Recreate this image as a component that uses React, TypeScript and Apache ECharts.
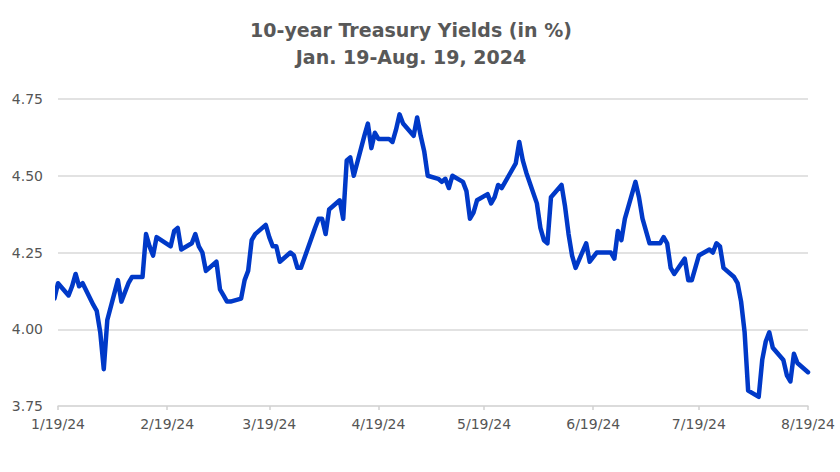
import React, { useEffect, useRef } from "react";
import * as echarts from "echarts";

const titleLines = ["10-year Treasury Yields (in %)", "Jan. 19-Aug. 19, 2024"];

const dates = [
  "2024-01-18", "2024-01-19", "2024-01-22", "2024-01-23", "2024-01-24", "2024-01-25", "2024-01-26", "2024-01-29", "2024-01-30", "2024-01-31",
  "2024-02-01", "2024-02-02", "2024-02-05", "2024-02-06", "2024-02-07", "2024-02-08", "2024-02-09", "2024-02-12", "2024-02-13", "2024-02-14",
  "2024-02-15", "2024-02-16", "2024-02-20", "2024-02-21", "2024-02-22", "2024-02-23", "2024-02-26", "2024-02-27", "2024-02-28", "2024-02-29",
  "2024-03-01", "2024-03-04", "2024-03-05", "2024-03-06", "2024-03-07", "2024-03-08", "2024-03-11", "2024-03-12", "2024-03-13", "2024-03-14",
  "2024-03-15", "2024-03-18", "2024-03-19", "2024-03-20", "2024-03-21", "2024-03-22", "2024-03-25", "2024-03-26", "2024-03-27", "2024-03-28",
  "2024-04-01", "2024-04-02", "2024-04-03", "2024-04-04", "2024-04-05", "2024-04-08", "2024-04-09", "2024-04-10", "2024-04-11", "2024-04-12",
  "2024-04-15", "2024-04-16", "2024-04-17", "2024-04-18", "2024-04-19", "2024-04-22", "2024-04-23", "2024-04-24", "2024-04-25", "2024-04-26",
  "2024-04-29", "2024-04-30",
  "2024-05-01", "2024-05-02", "2024-05-03", "2024-05-06", "2024-05-07", "2024-05-08", "2024-05-09", "2024-05-10", "2024-05-13", "2024-05-14",
  "2024-05-15", "2024-05-16", "2024-05-17", "2024-05-20", "2024-05-21", "2024-05-22", "2024-05-23", "2024-05-24", "2024-05-28", "2024-05-29",
  "2024-05-30", "2024-05-31",
  "2024-06-03", "2024-06-04", "2024-06-05", "2024-06-06", "2024-06-07", "2024-06-10", "2024-06-11", "2024-06-12", "2024-06-13", "2024-06-14",
  "2024-06-17", "2024-06-18", "2024-06-20", "2024-06-21", "2024-06-24", "2024-06-25", "2024-06-26", "2024-06-27", "2024-06-28",
  "2024-07-01", "2024-07-02", "2024-07-03", "2024-07-05", "2024-07-08", "2024-07-09", "2024-07-10", "2024-07-11", "2024-07-12", "2024-07-15",
  "2024-07-16", "2024-07-17", "2024-07-18", "2024-07-19", "2024-07-22", "2024-07-23", "2024-07-24", "2024-07-25", "2024-07-26", "2024-07-29",
  "2024-07-30", "2024-07-31",
  "2024-08-01", "2024-08-02", "2024-08-05", "2024-08-06", "2024-08-07", "2024-08-08", "2024-08-09", "2024-08-12", "2024-08-13", "2024-08-14",
  "2024-08-15", "2024-08-16", "2024-08-19",
];

const yields = [
  4.10, 4.15, 4.11, 4.14, 4.18, 4.14, 4.15, 4.08, 4.06, 3.99,
  3.87, 4.03, 4.16, 4.09, 4.12, 4.15, 4.17, 4.17, 4.31, 4.27,
  4.24, 4.30, 4.27, 4.32, 4.33, 4.26, 4.28, 4.31, 4.27, 4.25,
  4.19, 4.22, 4.13, 4.11, 4.09, 4.09, 4.10, 4.16, 4.19, 4.29,
  4.31, 4.34, 4.30, 4.27, 4.27, 4.22, 4.25, 4.24, 4.20, 4.20,
  4.33, 4.36, 4.36, 4.31, 4.39, 4.42, 4.36, 4.55, 4.56, 4.50,
  4.63, 4.67, 4.59, 4.64, 4.62, 4.62, 4.61, 4.65, 4.70, 4.67,
  4.63, 4.69,
  4.63, 4.58, 4.50, 4.49, 4.48, 4.49, 4.46, 4.50, 4.48, 4.45,
  4.36, 4.38, 4.42, 4.44, 4.41, 4.43, 4.47, 4.46, 4.54, 4.61,
  4.55, 4.51,
  4.41, 4.33, 4.29, 4.28, 4.43, 4.47, 4.40, 4.31, 4.24, 4.20,
  4.28, 4.22, 4.25, 4.25, 4.25, 4.23, 4.32, 4.29, 4.36,
  4.48, 4.43, 4.36, 4.28, 4.28, 4.30, 4.28, 4.20, 4.18, 4.23,
  4.16, 4.16, 4.20, 4.24, 4.26, 4.25, 4.28, 4.27, 4.20, 4.17,
  4.15, 4.09,
  3.99, 3.80, 3.78, 3.90, 3.96, 3.99, 3.94, 3.90, 3.85, 3.83,
  3.92, 3.89, 3.86,
];

const tickDates = ["2024-01-19", "2024-02-19", "2024-03-19", "2024-04-19", "2024-05-19", "2024-06-19", "2024-07-19", "2024-08-19"];

const yMin = 3.75;
const yMax = 4.75;
const yStep = 0.25;

function toTime(s: string): number {
  const [y, m, d] = s.split("-").map(Number);
  return new Date(y, m - 1, d).getTime();
}

export default function App() {
  const ref = useRef<HTMLDivElement>(null);

  useEffect(() => {
    document.body.style.margin = "0";
    if (!ref.current) return;
    const chart = echarts.init(ref.current, undefined, { renderer: "svg" });
    const ticks = tickDates.map(toTime);
    const data = dates.map((d, i) => [toTime(d), yields[i]]);
    const labelFont = "'DejaVu Sans', Verdana, sans-serif";
    chart.setOption({
      animation: false,
      backgroundColor: "#ffffff",
      graphic: titleLines.map((t, i) => ({
        type: "text",
        x: 411,
        y: 30 + i * 26.5,
        style: {
          text: t,
          fill: "#585858",
          font: "bold 19px 'DejaVu Sans', sans-serif",
          textAlign: "center",
          textVerticalAlign: "middle",
        },
      })),
      grid: { left: 58, right: 32, top: 99, bottom: 66, containLabel: false },
      xAxis: {
        type: "value",
        min: ticks[0],
        max: ticks[ticks.length - 1],
        axisLine: { show: true, lineStyle: { color: "#d9d9d9", width: 1.5 } },
        axisTick: {
          show: true,
          customValues: ticks,
          length: 4,
          lineStyle: { color: "#d0d0d0", width: 1.5 },
        },
        axisLabel: {
          customValues: ticks,
          margin: 11,
          color: "#555555",
          fontSize: 14,
          fontFamily: labelFont,
          hideOverlap: false,
          showMinLabel: true,
          showMaxLabel: true,
          formatter: (v: number) => {
            const d = new Date(v);
            return `${d.getMonth() + 1}/${d.getDate()}/24`;
          },
        },
        splitLine: { show: false },
      },
      yAxis: {
        type: "value",
        min: yMin,
        max: yMax,
        interval: yStep,
        axisLine: { show: false },
        axisTick: { show: false },
        axisLabel: {
          margin: 15,
          color: "#555555",
          fontSize: 14,
          fontFamily: labelFont,
          formatter: (v: number) => v.toFixed(2),
        },
        splitLine: { show: true, lineStyle: { color: "#d9d9d9", width: 1.5 } },
      },
      series: [
        {
          type: "line",
          data,
          showSymbol: false,
          symbol: "none",
          clip: true,
          lineStyle: { color: "#0039c8", width: 4.5, join: "round", cap: "round" },
        },
      ],
    });
    return () => chart.dispose();
  }, []);

  return <div ref={ref} style={{ width: 840, height: 472 }} />;
}
